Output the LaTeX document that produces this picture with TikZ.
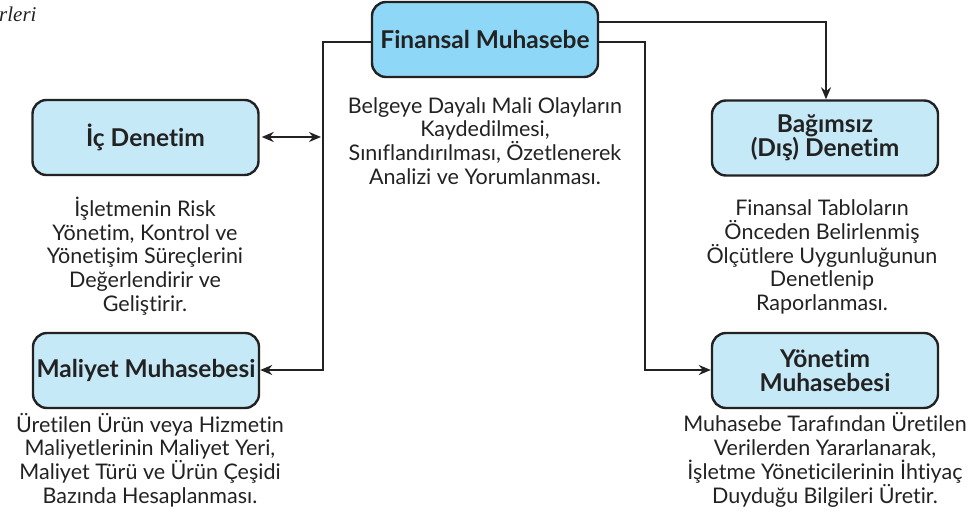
\documentclass[tikz,border=0pt]{standalone}
\usepackage{fontspec}
\setmainfont{Lato}[Ligatures=NoCommon]
\newfontfamily\captionserif{Liberation Serif}
\usetikzlibrary{arrows.meta}
\definecolor{boxblue}{HTML}{C6E9F8}
\definecolor{headblue}{HTML}{8FD7F6}
\definecolor{ink}{HTML}{222222}
\begin{document}
\begin{tikzpicture}[x=1pt,y=-1pt,
  box/.style={draw=ink, line width=2.4pt, rounded corners=14pt, fill=boxblue,
    minimum width=226pt, minimum height=75pt, align=center, inner sep=0pt,
    text=ink, font=\bfseries\fontsize{24.5}{24.5}\selectfont},
  desc/.style={align=center, text=ink, font=\fontsize{21.5}{23.8}\selectfont},
  conn/.style={draw=ink, line width=2.4pt},
  arr/.style={conn, -{Stealth[length=12pt,width=10pt]}},
  dbl/.style={conn, {Stealth[length=12pt,width=10pt]}-{Stealth[length=12pt,width=10pt]}}]
\useasboundingbox (0,0) rectangle (980,516);

% running caption fragment at the top left
\node[anchor=west, inner sep=0pt, text=ink,
  font=\captionserif\itshape\fontsize{21}{22}\selectfont] (cap) at (-1,14) {rleri};

% boxes
\node[box, fill=headblue] (fm) at (485,39.5) {Finansal Muhasebe};
\node[box] (ic) at (145.5,137.5) {İç Denetim};
\node[box] (mm) at (146,370.5) {Maliyet Muhasebesi};
\node[box] (bd) at (825,138) {Bağımsız\\(Dış) Denetim};
\node[box] (ym) at (825,370.5) {Yönetim\\Muhasebesi};

% descriptions
\node[desc] (fmd) at (485,141) {Belgeye Dayalı Mali Olayların\\Kaydedilmesi,\\Sınıflandırılması, Özetlenerek\\Analizi ve Yorumlanması.};
\node[desc] (icd) at (145,256) {İşletmenin Risk\\Yönetim, Kontrol ve\\Yönetişim Süreçlerini\\Değerlendirir ve\\Geliştirir.};
\node[desc] (bdd) at (822,257) {Finansal Tabloların\\Önceden Belirlenmiş\\Ölçütlere Uygunluğunun\\Denetlenip\\Raporlanması.};
\node[desc] (mmd) at (150,460) {Üretilen Ürün veya Hizmetin\\Maliyetlerinin Maliyet Yeri,\\Maliyet Türü ve Ürün Çeşidi\\Bazında Hesaplanması.};
\node[desc] (ymd) at (825,460) {Muhasebe Tarafından Üretilen\\Verilerden Yararlanarak,\\İşletme Yöneticilerinin İhtiyaç\\Duyduğu Bilgileri Üretir.};

% connector corners
\coordinate (ltop) at (323,42);
\coordinate (lbot) at (323,370);
\coordinate (lmid) at (321,137);
\coordinate (rtop) at (645,42);
\coordinate (rbot) at (645,370);
\coordinate (ttop) at (826,22);

% connectors
\draw[arr] (fm.west |- ltop) -- (ltop) -- (lbot) -- (mm.east |- lbot);
\draw[dbl, shorten <=2pt] (ic.east |- lmid) -- (lmid);
\draw[arr] (fm.east |- rtop) -- (rtop) -- (rbot) -- (ym.west |- rbot);
\draw[arr] (fm.east |- ttop) -- (ttop) -- (bd.north -| ttop);
\end{tikzpicture}
\end{document}
